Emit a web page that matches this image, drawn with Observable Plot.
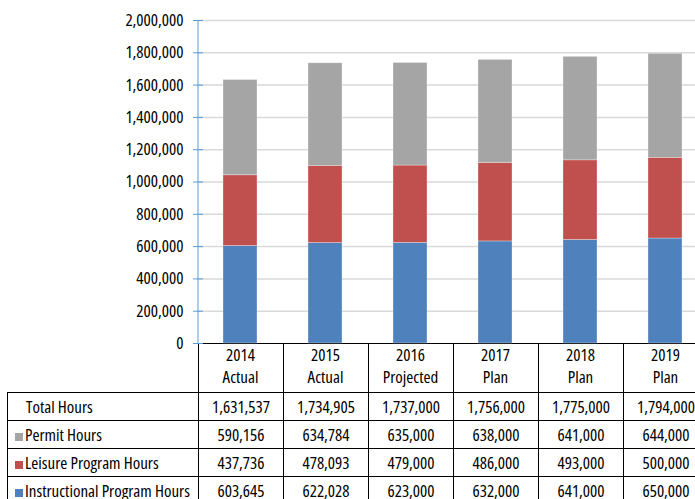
<!DOCTYPE html>
<html><head><meta charset="utf-8">
<script src="https://cdn.jsdelivr.net/npm/d3@7"></script>
<script src="https://cdn.jsdelivr.net/npm/@observablehq/plot@0.6"></script>
<style>
body{margin:0;background:#fff;}
#wrap{position:relative;width:695px;height:499px;overflow:hidden;background:#fff;font-family:"Open Sans","Liberation Sans",Arial,sans-serif;font-stretch:75%;}
#chart{position:absolute;left:0;top:0;z-index:2;}
#tbl{position:absolute;left:7px;top:343px;border-collapse:collapse;table-layout:fixed;width:702px;z-index:1;color:#000;}
#tbl td{border:1px solid #000;padding:0;font-size:17px;text-align:center;white-space:nowrap;overflow:hidden;}
#tbl tr.head td{height:48px;}
#tbl tr.row td{height:27px;}
#tbl td.lab{text-align:left;padding-left:7px;}
#tbl td.blank{border-top:none;border-left:none;}
.sw{display:inline-block;width:8px;height:8px;margin-right:2px;vertical-align:0px;}
</style>
</head><body>
<div id="wrap"><div id="chart"></div><table id="tbl"></table></div>
<script>
const categories = ["2014 Actual","2015 Actual","2016 Projected","2017 Plan","2018 Plan","2019 Plan"];
const tickLabels = ["2014\nActual","2015\nActual","2016\nProjected","2017\nPlan","2018\nPlan","2019\nPlan"];
const seriesNames = ["Instructional Program Hours","Leisure Program Hours","Permit Hours"];
const seriesColors = ["#4f81bd","#c0504d","#a5a5a5"];
const instructional = [603645, 622028, 623000, 632000, 641000, 650000];
const leisure = [437736, 478093, 479000, 486000, 493000, 500000];
const permit = [590156, 634784, 635000, 638000, 641000, 644000];
const totals = [1631537, 1734905, 1737000, 1756000, 1775000, 1794000];
const yTicks = [0,200000,400000,600000,800000,1000000,1200000,1400000,1600000,1800000,2000000];

const seriesValues = [instructional, leisure, permit];
const rows = [];
seriesNames.forEach((s, si) => categories.forEach((c, ci) => rows.push({cat: c, series: s, value: seriesValues[si][ci]})));

const W = 708, ML = 198, step = (W - ML) / categories.length;
const blue = "#5b9bd5";
const fmt = d3.format(",");

const plot = Plot.plot({
  width: W, height: 392,
  marginLeft: ML, marginRight: 0, marginTop: 20, marginBottom: 49,
  style: {background: "transparent", maxWidth: "none", overflow: "visible", fontFamily: "'Open Sans','Liberation Sans',Arial,sans-serif", fontStretch: "75%", fontSize: "17px", color: "#000"},
  x: {domain: categories, paddingInner: 0.6, paddingOuter: 0.3, label: null},
  y: {domain: [0, 2000000], label: null},
  color: {domain: seriesNames, range: seriesColors},
  marks: [
    Plot.ruleY(yTicks.filter(d => d > 0), {stroke: "#d9d9d9", strokeWidth: 1.5}),
    Plot.barY(rows, {x: "cat", y: "value", fill: "series", order: seriesNames, stroke: "#ffffff", strokeOpacity: 0.5, strokeWidth: 0.6}),
    Plot.ruleY(yTicks, {stroke: blue, insetRight: W - ML - 5}),
    Plot.ruleX([categories[0]], {dx: -step / 2, stroke: blue}),
    Plot.axisY({ticks: yTicks, tickFormat: fmt, tickSize: 5, tickPadding: 10, stroke: blue, fill: "#000", fontSize: 17, label: null}),
    Plot.axisX({tickSize: 0, tickPadding: 2, tickFormat: (d) => tickLabels[categories.indexOf(d)], fontSize: 17, lineHeight: 1.3, fill: "#000", label: null})
  ]
});
document.getElementById("chart").appendChild(plot);

// data table below the chart
const tbl = document.getElementById("tbl");
let html = '<colgroup><col style="width:191px">' + categories.map(() => '<col style="width:85px">').join("") + '</colgroup>';
html += '<tr class="head"><td class="blank"></td>' + categories.map(() => '<td></td>').join("") + '</tr>';
html += '<tr class="row"><td class="lab" style="padding-left:18px">Total Hours</td>' + totals.map(v => `<td>${fmt(v)}</td>`).join("") + '</tr>';
for (let si = seriesNames.length - 1; si >= 0; si--) {
  html += `<tr class="row"><td class="lab"><span class="sw" style="background:${seriesColors[si]}"></span>${seriesNames[si]}</td>` + seriesValues[si].map(v => `<td>${fmt(v)}</td>`).join("") + '</tr>';
}
tbl.innerHTML = html;
</script>
</body></html>
